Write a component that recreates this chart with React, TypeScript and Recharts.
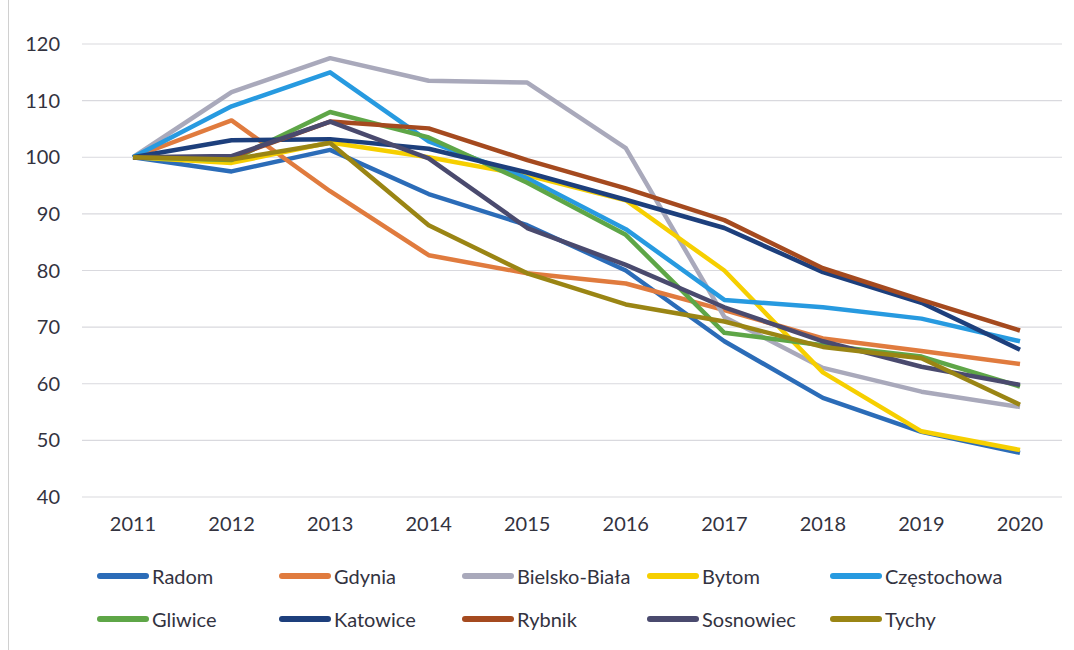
import { LineChart, Line, XAxis, YAxis, CartesianGrid, Legend } from 'recharts'

const years = ['2011', '2012', '2013', '2014', '2015', '2016', '2017', '2018', '2019', '2020']

const radom = [100, 97.5, 101.3, 93.5, 88, 80, 67.5, 57.5, 51.5, 47.8]
const gdynia = [100, 106.5, 94, 82.7, 79.5, 77.7, 73, 68, 65.8, 63.5]
const bielsko = [100, 111.5, 117.5, 113.5, 113.2, 101.6, 71.8, 62.8, 58.6, 55.9]
const bytom = [100, 99, 102.6, 100, 96.8, 92.4, 80, 62, 51.6, 48.3]
const czestochowa = [100, 109, 115, 102.8, 96.3, 87.3, 74.8, 73.5, 71.5, 67.5]
const gliwice = [100, 99.5, 108, 103.5, 95.5, 86.3, 69, 66.8, 64.8, 59.5]
const katowice = [100, 103, 103.2, 101.5, 97.3, 92.5, 87.5, 79.7, 74.3, 66]
const rybnik = [100, 100, 106.3, 105.1, 99.5, 94.5, 88.9, 80.4, 74.8, 69.4]
const sosnowiec = [100, 100.2, 106.3, 99.8, 87.5, 81, 73.5, 67.5, 63, 59.8]
const tychy = [100, 99.6, 102.5, 88, 79.5, 74, 71, 66.5, 64.5, 56.3]

const yTicks = [40, 50, 60, 70, 80, 90, 100, 110, 120]

const series = [
  { key: 'Radom', values: radom, color: '#2b6cb8' },
  { key: 'Gdynia', values: gdynia, color: '#e07b3e' },
  { key: 'Bielsko-Biała', values: bielsko, color: '#a9a9bb' },
  { key: 'Bytom', values: bytom, color: '#f6cf00' },
  { key: 'Częstochowa', values: czestochowa, color: '#279ae0' },
  { key: 'Gliwice', values: gliwice, color: '#5ea647' },
  { key: 'Katowice', values: katowice, color: '#1d3f7c' },
  { key: 'Rybnik', values: rybnik, color: '#a54a1f' },
  { key: 'Sosnowiec', values: sosnowiec, color: '#4a4a6e' },
  { key: 'Tychy', values: tychy, color: '#9a8514' },
]

const data = years.map((year, i) => {
  const row: Record<string, string | number> = { year }
  series.forEach((s) => {
    row[s.key] = s.values[i]
  })
  return row
})

const font = 'Lato, "Open Sans", sans-serif'
const textColor = '#33333f'
const colLeft = [97, 279, 462, 647, 830]

function LegendGrid() {
  return (
    <div style={{ position: 'relative', width: 1074, height: 100 }}>
      {series.map((s, i) => {
        const col = i % 5
        const row = Math.floor(i / 5)
        return (
          <div
            key={s.key}
            style={{
              position: 'absolute',
              left: colLeft[col],
              top: 27 + row * 43,
              display: 'flex',
              alignItems: 'center',
              fontFamily: font,
              fontSize: 20,
              color: textColor,
              lineHeight: '24px',
            }}
          >
            <span
              style={{
                display: 'inline-block',
                width: 52,
                height: 6,
                borderRadius: 3,
                background: s.color,
                marginRight: 3,
              }}
            />
            {s.key}
          </div>
        )
      })}
    </div>
  )
}

export default function App() {
  return (
    <div style={{ position: 'absolute', left: 0, top: 0, width: 1074, height: 650, background: '#fff' }}>
      <div style={{ position: 'absolute', left: 8, top: 0, bottom: 0, borderLeft: '1px solid #d0d0d0' }} />
      <LineChart width={1074} height={650} data={data} margin={{ top: 44, right: 12, bottom: 13, left: 0 }}>
        <CartesianGrid vertical={false} stroke="#d9d9de" strokeWidth={1.2} />
        <XAxis
          dataKey="year"
          axisLine={false}
          tickLine={false}
          tickSize={0}
          tickMargin={20}
          height={40}
          padding={{ left: 51, right: 42 }}
          tick={{ fontSize: 20, fontFamily: font, fill: textColor }}
        />
        <YAxis
          domain={[40, 120]}
          ticks={yTicks}
          axisLine={false}
          tickLine={false}
          tickSize={0}
          tickMargin={22}
          width={82}
          tick={{ fontSize: 20, fontFamily: font, fill: textColor }}
        />
        <Legend verticalAlign="bottom" height={100} content={() => <LegendGrid />} />
        {series.map((s) => (
          <Line
            key={s.key}
            type="linear"
            dataKey={s.key}
            stroke={s.color}
            strokeWidth={4.5}
            strokeLinejoin="round"
            dot={false}
            isAnimationActive={false}
          />
        ))}
      </LineChart>
    </div>
  )
}
